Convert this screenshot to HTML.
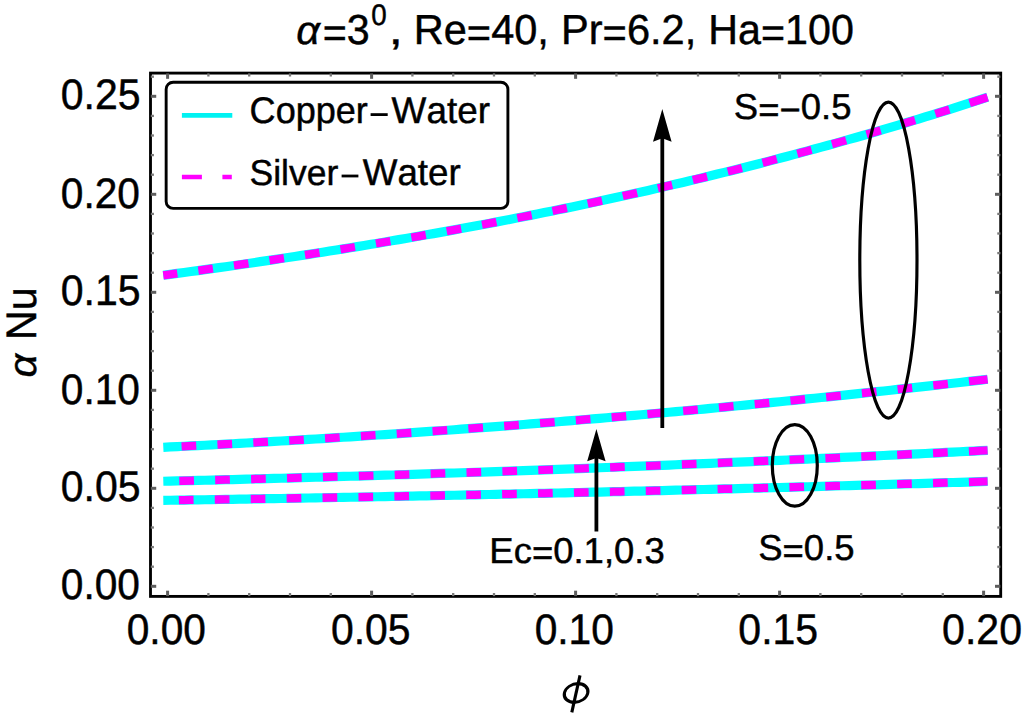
<!DOCTYPE html>
<html><head><meta charset="utf-8"><title>plot</title>
<style>html,body{margin:0;padding:0;background:#fff;overflow:hidden;}svg{display:block;}text{font-family:"Liberation Sans",sans-serif;fill:#000;font-kerning:none;text-rendering:geometricPrecision;stroke:#000;stroke-width:0.45px;}</style>
</head><body>
<svg width="1024" height="715" viewBox="0 0 1024 715">
<rect x="0" y="0" width="1024" height="715" fill="#ffffff"/>
<path d="M987.60,97.21 L980.67,99.47 L973.75,101.71 L966.82,103.94 L959.89,106.15 L952.97,108.35 L946.04,110.53 L939.11,112.69 L932.18,114.84 L925.26,116.98 L918.33,119.09 L911.40,121.20 L904.48,123.28 L897.55,125.35 L890.62,127.41 L883.70,129.45 L876.77,131.48 L869.84,133.49 L862.92,135.48 L855.99,137.46 L849.06,139.43 L842.14,141.38 L835.21,143.31 L828.28,145.24 L821.35,147.14 L814.43,149.04 L807.50,150.92 L800.57,152.78 L793.65,154.63 L786.72,156.47 L779.79,158.29 L772.87,160.10 L765.94,161.90 L759.01,163.68 L752.09,165.45 L745.16,167.20 L738.23,168.94 L731.31,170.67 L724.38,172.38 L717.45,174.09 L710.52,175.77 L703.60,177.45 L696.67,179.11 L689.74,180.76 L682.82,182.40 L675.89,184.02 L668.96,185.64 L662.04,187.24 L655.11,188.82 L648.18,190.40 L641.26,191.96 L634.33,193.51 L627.40,195.05 L620.47,196.58 L613.55,198.09 L606.62,199.60 L599.69,201.09 L592.77,202.57 L585.84,204.04 L578.91,205.49 L571.99,206.94 L565.06,208.37 L558.13,209.80 L551.21,211.21 L544.28,212.61 L537.35,214.00 L530.43,215.38 L523.50,216.75 L516.57,218.11 L509.64,219.45 L502.72,220.79 L495.79,222.12 L488.86,223.43 L481.94,224.74 L475.01,226.04 L468.08,227.32 L461.16,228.60 L454.23,229.87 L447.30,231.12 L440.38,232.37 L433.45,233.61 L426.52,234.83 L419.59,236.05 L412.67,237.26 L405.74,238.46 L398.81,239.65 L391.89,240.83 L384.96,242.01 L378.03,243.17 L371.11,244.32 L364.18,245.47 L357.25,246.61 L350.33,247.74 L343.40,248.86 L336.47,249.97 L329.55,251.07 L322.62,252.17 L315.69,253.26 L308.76,254.33 L301.84,255.41 L294.91,256.47 L287.98,257.52 L281.06,258.57 L274.13,259.61 L267.20,260.65 L260.28,261.67 L253.35,262.69 L246.42,263.70 L239.50,264.70 L232.57,265.70 L225.64,266.69 L218.72,267.67 L211.79,268.65 L204.86,269.62 L197.93,270.58 L191.01,271.53 L184.08,272.48 L177.15,273.42 L170.23,274.36 L163.30,275.29" fill="none" stroke="#00ffff" stroke-width="9.2"/>
<path d="M987.60,97.21 L980.67,99.47 L973.75,101.71 L966.82,103.94 L959.89,106.15 L952.97,108.35 L946.04,110.53 L939.11,112.69 L932.18,114.84 L925.26,116.98 L918.33,119.09 L911.40,121.20 L904.48,123.28 L897.55,125.35 L890.62,127.41 L883.70,129.45 L876.77,131.48 L869.84,133.49 L862.92,135.48 L855.99,137.46 L849.06,139.43 L842.14,141.38 L835.21,143.31 L828.28,145.24 L821.35,147.14 L814.43,149.04 L807.50,150.92 L800.57,152.78 L793.65,154.63 L786.72,156.47 L779.79,158.29 L772.87,160.10 L765.94,161.90 L759.01,163.68 L752.09,165.45 L745.16,167.20 L738.23,168.94 L731.31,170.67 L724.38,172.38 L717.45,174.09 L710.52,175.77 L703.60,177.45 L696.67,179.11 L689.74,180.76 L682.82,182.40 L675.89,184.02 L668.96,185.64 L662.04,187.24 L655.11,188.82 L648.18,190.40 L641.26,191.96 L634.33,193.51 L627.40,195.05 L620.47,196.58 L613.55,198.09 L606.62,199.60 L599.69,201.09 L592.77,202.57 L585.84,204.04 L578.91,205.49 L571.99,206.94 L565.06,208.37 L558.13,209.80 L551.21,211.21 L544.28,212.61 L537.35,214.00 L530.43,215.38 L523.50,216.75 L516.57,218.11 L509.64,219.45 L502.72,220.79 L495.79,222.12 L488.86,223.43 L481.94,224.74 L475.01,226.04 L468.08,227.32 L461.16,228.60 L454.23,229.87 L447.30,231.12 L440.38,232.37 L433.45,233.61 L426.52,234.83 L419.59,236.05 L412.67,237.26 L405.74,238.46 L398.81,239.65 L391.89,240.83 L384.96,242.01 L378.03,243.17 L371.11,244.32 L364.18,245.47 L357.25,246.61 L350.33,247.74 L343.40,248.86 L336.47,249.97 L329.55,251.07 L322.62,252.17 L315.69,253.26 L308.76,254.33 L301.84,255.41 L294.91,256.47 L287.98,257.52 L281.06,258.57 L274.13,259.61 L267.20,260.65 L260.28,261.67 L253.35,262.69 L246.42,263.70 L239.50,264.70 L232.57,265.70 L225.64,266.69 L218.72,267.67 L211.79,268.65 L204.86,269.62 L197.93,270.58 L191.01,271.53 L184.08,272.48 L177.15,273.42 L170.23,274.36 L163.30,275.29" fill="none" stroke="#ff00ff" stroke-width="8.3" stroke-dasharray="18.91 21.22 14.70 21.22 14.70 21.22 14.70 21.22 14.70 21.22 14.70 21.22 14.70 21.22 14.70 21.22 14.70 21.22 14.70 21.22 14.70 21.22 14.70 21.22 14.70 21.22 14.70 21.22 14.70 21.22 14.70 21.22 14.70 21.22 14.70 21.22 14.70 21.22 14.70 21.22 14.70 21.22 14.70 21.22 14.70 21.22 14.70 21.22 14.70 21.22 14.70 21.22"/>
<path d="M987.60,379.27 L980.67,380.08 L973.75,380.88 L966.82,381.68 L959.89,382.47 L952.97,383.26 L946.04,384.05 L939.11,384.83 L932.18,385.61 L925.26,386.39 L918.33,387.16 L911.40,387.92 L904.48,388.68 L897.55,389.44 L890.62,390.20 L883.70,390.95 L876.77,391.69 L869.84,392.44 L862.92,393.18 L855.99,393.91 L849.06,394.64 L842.14,395.37 L835.21,396.09 L828.28,396.81 L821.35,397.52 L814.43,398.24 L807.50,398.94 L800.57,399.64 L793.65,400.34 L786.72,401.04 L779.79,401.73 L772.87,402.42 L765.94,403.10 L759.01,403.78 L752.09,404.45 L745.16,405.12 L738.23,405.79 L731.31,406.45 L724.38,407.11 L717.45,407.77 L710.52,408.42 L703.60,409.07 L696.67,409.71 L689.74,410.35 L682.82,410.98 L675.89,411.62 L668.96,412.24 L662.04,412.87 L655.11,413.49 L648.18,414.10 L641.26,414.71 L634.33,415.32 L627.40,415.92 L620.47,416.52 L613.55,417.12 L606.62,417.71 L599.69,418.30 L592.77,418.88 L585.84,419.46 L578.91,420.04 L571.99,420.61 L565.06,421.18 L558.13,421.74 L551.21,422.30 L544.28,422.86 L537.35,423.41 L530.43,423.96 L523.50,424.50 L516.57,425.04 L509.64,425.57 L502.72,426.11 L495.79,426.63 L488.86,427.16 L481.94,427.68 L475.01,428.19 L468.08,428.71 L461.16,429.21 L454.23,429.72 L447.30,430.22 L440.38,430.72 L433.45,431.21 L426.52,431.70 L419.59,432.18 L412.67,432.66 L405.74,433.14 L398.81,433.61 L391.89,434.08 L384.96,434.54 L378.03,435.00 L371.11,435.46 L364.18,435.91 L357.25,436.36 L350.33,436.80 L343.40,437.24 L336.47,437.68 L329.55,438.11 L322.62,438.54 L315.69,438.97 L308.76,439.39 L301.84,439.80 L294.91,440.22 L287.98,440.62 L281.06,441.03 L274.13,441.43 L267.20,441.83 L260.28,442.22 L253.35,442.61 L246.42,442.99 L239.50,443.37 L232.57,443.75 L225.64,444.12 L218.72,444.49 L211.79,444.86 L204.86,445.22 L197.93,445.58 L191.01,445.93 L184.08,446.28 L177.15,446.62 L170.23,446.96 L163.30,447.30" fill="none" stroke="#00ffff" stroke-width="9.2"/>
<path d="M987.60,379.27 L980.67,380.08 L973.75,380.88 L966.82,381.68 L959.89,382.47 L952.97,383.26 L946.04,384.05 L939.11,384.83 L932.18,385.61 L925.26,386.39 L918.33,387.16 L911.40,387.92 L904.48,388.68 L897.55,389.44 L890.62,390.20 L883.70,390.95 L876.77,391.69 L869.84,392.44 L862.92,393.18 L855.99,393.91 L849.06,394.64 L842.14,395.37 L835.21,396.09 L828.28,396.81 L821.35,397.52 L814.43,398.24 L807.50,398.94 L800.57,399.64 L793.65,400.34 L786.72,401.04 L779.79,401.73 L772.87,402.42 L765.94,403.10 L759.01,403.78 L752.09,404.45 L745.16,405.12 L738.23,405.79 L731.31,406.45 L724.38,407.11 L717.45,407.77 L710.52,408.42 L703.60,409.07 L696.67,409.71 L689.74,410.35 L682.82,410.98 L675.89,411.62 L668.96,412.24 L662.04,412.87 L655.11,413.49 L648.18,414.10 L641.26,414.71 L634.33,415.32 L627.40,415.92 L620.47,416.52 L613.55,417.12 L606.62,417.71 L599.69,418.30 L592.77,418.88 L585.84,419.46 L578.91,420.04 L571.99,420.61 L565.06,421.18 L558.13,421.74 L551.21,422.30 L544.28,422.86 L537.35,423.41 L530.43,423.96 L523.50,424.50 L516.57,425.04 L509.64,425.57 L502.72,426.11 L495.79,426.63 L488.86,427.16 L481.94,427.68 L475.01,428.19 L468.08,428.71 L461.16,429.21 L454.23,429.72 L447.30,430.22 L440.38,430.72 L433.45,431.21 L426.52,431.70 L419.59,432.18 L412.67,432.66 L405.74,433.14 L398.81,433.61 L391.89,434.08 L384.96,434.54 L378.03,435.00 L371.11,435.46 L364.18,435.91 L357.25,436.36 L350.33,436.80 L343.40,437.24 L336.47,437.68 L329.55,438.11 L322.62,438.54 L315.69,438.97 L308.76,439.39 L301.84,439.80 L294.91,440.22 L287.98,440.62 L281.06,441.03 L274.13,441.43 L267.20,441.83 L260.28,442.22 L253.35,442.61 L246.42,442.99 L239.50,443.37 L232.57,443.75 L225.64,444.12 L218.72,444.49 L211.79,444.86 L204.86,445.22 L197.93,445.58 L191.01,445.93 L184.08,446.28 L177.15,446.62 L170.23,446.96 L163.30,447.30" fill="none" stroke="#ff00ff" stroke-width="8.3" stroke-dasharray="18.73 21.22 14.70 21.22 14.70 21.22 14.70 21.22 14.70 21.22 14.70 21.22 14.70 21.22 14.70 21.22 14.70 21.22 14.70 21.22 14.70 21.22 14.70 21.22 14.70 21.22 14.70 21.22 14.70 21.22 14.70 21.22 14.70 21.22 14.70 21.22 14.70 21.22 14.70 21.22 14.70 21.22 14.70 21.22 14.70 21.22 14.70 21.22 14.70 21.22 14.70 21.22"/>
<path d="M987.60,450.34 L980.67,450.70 L973.75,451.05 L966.82,451.40 L959.89,451.75 L952.97,452.10 L946.04,452.45 L939.11,452.80 L932.18,453.14 L925.26,453.48 L918.33,453.83 L911.40,454.17 L904.48,454.50 L897.55,454.84 L890.62,455.17 L883.70,455.51 L876.77,455.84 L869.84,456.17 L862.92,456.50 L855.99,456.82 L849.06,457.15 L842.14,457.47 L835.21,457.79 L828.28,458.11 L821.35,458.43 L814.43,458.75 L807.50,459.06 L800.57,459.38 L793.65,459.69 L786.72,460.00 L779.79,460.31 L772.87,460.62 L765.94,460.92 L759.01,461.22 L752.09,461.53 L745.16,461.83 L738.23,462.13 L731.31,462.42 L724.38,462.72 L717.45,463.01 L710.52,463.31 L703.60,463.60 L696.67,463.89 L689.74,464.17 L682.82,464.46 L675.89,464.74 L668.96,465.03 L662.04,465.31 L655.11,465.59 L648.18,465.86 L641.26,466.14 L634.33,466.41 L627.40,466.69 L620.47,466.96 L613.55,467.23 L606.62,467.49 L599.69,467.76 L592.77,468.03 L585.84,468.29 L578.91,468.55 L571.99,468.81 L565.06,469.07 L558.13,469.32 L551.21,469.58 L544.28,469.83 L537.35,470.08 L530.43,470.33 L523.50,470.58 L516.57,470.83 L509.64,471.07 L502.72,471.32 L495.79,471.56 L488.86,471.80 L481.94,472.04 L475.01,472.27 L468.08,472.51 L461.16,472.74 L454.23,472.98 L447.30,473.21 L440.38,473.43 L433.45,473.66 L426.52,473.89 L419.59,474.11 L412.67,474.33 L405.74,474.55 L398.81,474.77 L391.89,474.99 L384.96,475.21 L378.03,475.42 L371.11,475.63 L364.18,475.84 L357.25,476.05 L350.33,476.26 L343.40,476.47 L336.47,476.67 L329.55,476.87 L322.62,477.07 L315.69,477.27 L308.76,477.47 L301.84,477.67 L294.91,477.86 L287.98,478.05 L281.06,478.25 L274.13,478.44 L267.20,478.62 L260.28,478.81 L253.35,478.99 L246.42,479.18 L239.50,479.36 L232.57,479.54 L225.64,479.72 L218.72,479.89 L211.79,480.07 L204.86,480.24 L197.93,480.41 L191.01,480.58 L184.08,480.75 L177.15,480.92 L170.23,481.08 L163.30,481.25" fill="none" stroke="#00ffff" stroke-width="9.2"/>
<path d="M987.60,450.34 L980.67,450.70 L973.75,451.05 L966.82,451.40 L959.89,451.75 L952.97,452.10 L946.04,452.45 L939.11,452.80 L932.18,453.14 L925.26,453.48 L918.33,453.83 L911.40,454.17 L904.48,454.50 L897.55,454.84 L890.62,455.17 L883.70,455.51 L876.77,455.84 L869.84,456.17 L862.92,456.50 L855.99,456.82 L849.06,457.15 L842.14,457.47 L835.21,457.79 L828.28,458.11 L821.35,458.43 L814.43,458.75 L807.50,459.06 L800.57,459.38 L793.65,459.69 L786.72,460.00 L779.79,460.31 L772.87,460.62 L765.94,460.92 L759.01,461.22 L752.09,461.53 L745.16,461.83 L738.23,462.13 L731.31,462.42 L724.38,462.72 L717.45,463.01 L710.52,463.31 L703.60,463.60 L696.67,463.89 L689.74,464.17 L682.82,464.46 L675.89,464.74 L668.96,465.03 L662.04,465.31 L655.11,465.59 L648.18,465.86 L641.26,466.14 L634.33,466.41 L627.40,466.69 L620.47,466.96 L613.55,467.23 L606.62,467.49 L599.69,467.76 L592.77,468.03 L585.84,468.29 L578.91,468.55 L571.99,468.81 L565.06,469.07 L558.13,469.32 L551.21,469.58 L544.28,469.83 L537.35,470.08 L530.43,470.33 L523.50,470.58 L516.57,470.83 L509.64,471.07 L502.72,471.32 L495.79,471.56 L488.86,471.80 L481.94,472.04 L475.01,472.27 L468.08,472.51 L461.16,472.74 L454.23,472.98 L447.30,473.21 L440.38,473.43 L433.45,473.66 L426.52,473.89 L419.59,474.11 L412.67,474.33 L405.74,474.55 L398.81,474.77 L391.89,474.99 L384.96,475.21 L378.03,475.42 L371.11,475.63 L364.18,475.84 L357.25,476.05 L350.33,476.26 L343.40,476.47 L336.47,476.67 L329.55,476.87 L322.62,477.07 L315.69,477.27 L308.76,477.47 L301.84,477.67 L294.91,477.86 L287.98,478.05 L281.06,478.25 L274.13,478.44 L267.20,478.62 L260.28,478.81 L253.35,478.99 L246.42,479.18 L239.50,479.36 L232.57,479.54 L225.64,479.72 L218.72,479.89 L211.79,480.07 L204.86,480.24 L197.93,480.41 L191.01,480.58 L184.08,480.75 L177.15,480.92 L170.23,481.08 L163.30,481.25" fill="none" stroke="#ff00ff" stroke-width="8.3" stroke-dasharray="18.71 21.22 14.70 21.22 14.70 21.22 14.70 21.22 14.70 21.22 14.70 21.22 14.70 21.22 14.70 21.22 14.70 21.22 14.70 21.22 14.70 21.22 14.70 21.22 14.70 21.22 14.70 21.22 14.70 21.22 14.70 21.22 14.70 21.22 14.70 21.22 14.70 21.22 14.70 21.22 14.70 21.22 14.70 21.22 14.70 21.22 14.70 21.22 14.70 21.22"/>
<path d="M987.60,481.45 L980.67,481.66 L973.75,481.88 L966.82,482.09 L959.89,482.30 L952.97,482.51 L946.04,482.72 L939.11,482.93 L932.18,483.14 L925.26,483.35 L918.33,483.56 L911.40,483.76 L904.48,483.97 L897.55,484.17 L890.62,484.37 L883.70,484.58 L876.77,484.78 L869.84,484.98 L862.92,485.18 L855.99,485.37 L849.06,485.57 L842.14,485.77 L835.21,485.96 L828.28,486.16 L821.35,486.35 L814.43,486.54 L807.50,486.73 L800.57,486.92 L793.65,487.11 L786.72,487.30 L779.79,487.49 L772.87,487.68 L765.94,487.86 L759.01,488.05 L752.09,488.23 L745.16,488.41 L738.23,488.59 L731.31,488.78 L724.38,488.96 L717.45,489.13 L710.52,489.31 L703.60,489.49 L696.67,489.67 L689.74,489.84 L682.82,490.01 L675.89,490.19 L668.96,490.36 L662.04,490.53 L655.11,490.70 L648.18,490.87 L641.26,491.04 L634.33,491.21 L627.40,491.37 L620.47,491.54 L613.55,491.70 L606.62,491.87 L599.69,492.03 L592.77,492.19 L585.84,492.35 L578.91,492.51 L571.99,492.67 L565.06,492.83 L558.13,492.99 L551.21,493.14 L544.28,493.30 L537.35,493.45 L530.43,493.60 L523.50,493.76 L516.57,493.91 L509.64,494.06 L502.72,494.21 L495.79,494.36 L488.86,494.50 L481.94,494.65 L475.01,494.80 L468.08,494.94 L461.16,495.08 L454.23,495.23 L447.30,495.37 L440.38,495.51 L433.45,495.65 L426.52,495.79 L419.59,495.93 L412.67,496.06 L405.74,496.20 L398.81,496.33 L391.89,496.47 L384.96,496.60 L378.03,496.73 L371.11,496.86 L364.18,496.99 L357.25,497.12 L350.33,497.25 L343.40,497.38 L336.47,497.51 L329.55,497.63 L322.62,497.76 L315.69,497.88 L308.76,498.00 L301.84,498.12 L294.91,498.24 L287.98,498.36 L281.06,498.48 L274.13,498.60 L267.20,498.72 L260.28,498.83 L253.35,498.95 L246.42,499.06 L239.50,499.17 L232.57,499.29 L225.64,499.40 L218.72,499.51 L211.79,499.62 L204.86,499.73 L197.93,499.83 L191.01,499.94 L184.08,500.04 L177.15,500.15 L170.23,500.25 L163.30,500.35" fill="none" stroke="#00ffff" stroke-width="9.2"/>
<path d="M987.60,481.45 L980.67,481.66 L973.75,481.88 L966.82,482.09 L959.89,482.30 L952.97,482.51 L946.04,482.72 L939.11,482.93 L932.18,483.14 L925.26,483.35 L918.33,483.56 L911.40,483.76 L904.48,483.97 L897.55,484.17 L890.62,484.37 L883.70,484.58 L876.77,484.78 L869.84,484.98 L862.92,485.18 L855.99,485.37 L849.06,485.57 L842.14,485.77 L835.21,485.96 L828.28,486.16 L821.35,486.35 L814.43,486.54 L807.50,486.73 L800.57,486.92 L793.65,487.11 L786.72,487.30 L779.79,487.49 L772.87,487.68 L765.94,487.86 L759.01,488.05 L752.09,488.23 L745.16,488.41 L738.23,488.59 L731.31,488.78 L724.38,488.96 L717.45,489.13 L710.52,489.31 L703.60,489.49 L696.67,489.67 L689.74,489.84 L682.82,490.01 L675.89,490.19 L668.96,490.36 L662.04,490.53 L655.11,490.70 L648.18,490.87 L641.26,491.04 L634.33,491.21 L627.40,491.37 L620.47,491.54 L613.55,491.70 L606.62,491.87 L599.69,492.03 L592.77,492.19 L585.84,492.35 L578.91,492.51 L571.99,492.67 L565.06,492.83 L558.13,492.99 L551.21,493.14 L544.28,493.30 L537.35,493.45 L530.43,493.60 L523.50,493.76 L516.57,493.91 L509.64,494.06 L502.72,494.21 L495.79,494.36 L488.86,494.50 L481.94,494.65 L475.01,494.80 L468.08,494.94 L461.16,495.08 L454.23,495.23 L447.30,495.37 L440.38,495.51 L433.45,495.65 L426.52,495.79 L419.59,495.93 L412.67,496.06 L405.74,496.20 L398.81,496.33 L391.89,496.47 L384.96,496.60 L378.03,496.73 L371.11,496.86 L364.18,496.99 L357.25,497.12 L350.33,497.25 L343.40,497.38 L336.47,497.51 L329.55,497.63 L322.62,497.76 L315.69,497.88 L308.76,498.00 L301.84,498.12 L294.91,498.24 L287.98,498.36 L281.06,498.48 L274.13,498.60 L267.20,498.72 L260.28,498.83 L253.35,498.95 L246.42,499.06 L239.50,499.17 L232.57,499.29 L225.64,499.40 L218.72,499.51 L211.79,499.62 L204.86,499.73 L197.93,499.83 L191.01,499.94 L184.08,500.04 L177.15,500.15 L170.23,500.25 L163.30,500.35" fill="none" stroke="#ff00ff" stroke-width="8.3" stroke-dasharray="18.70 21.22 14.70 21.22 14.70 21.22 14.70 21.22 14.70 21.22 14.70 21.22 14.70 21.22 14.70 21.22 14.70 21.22 14.70 21.22 14.70 21.22 14.70 21.22 14.70 21.22 14.70 21.22 14.70 21.22 14.70 21.22 14.70 21.22 14.70 21.22 14.70 21.22 14.70 21.22 14.70 21.22 14.70 21.22 14.70 21.22 14.70 21.22 14.70 21.22"/>
<rect x="150.5" y="73.1" width="850.2" height="523.3" fill="none" stroke="#000" stroke-width="2.85"/>
<line x1="167.60" y1="596.10" x2="167.60" y2="590.68" stroke="#5e5e5e" stroke-width="3.0"/>
<line x1="167.60" y1="73.40" x2="167.60" y2="78.82" stroke="#5e5e5e" stroke-width="3.0"/>
<line x1="208.40" y1="596.10" x2="208.40" y2="592.98" stroke="#7a7a7a" stroke-width="2.3"/>
<line x1="208.40" y1="73.40" x2="208.40" y2="76.52" stroke="#7a7a7a" stroke-width="2.3"/>
<line x1="249.20" y1="596.10" x2="249.20" y2="592.98" stroke="#7a7a7a" stroke-width="2.3"/>
<line x1="249.20" y1="73.40" x2="249.20" y2="76.52" stroke="#7a7a7a" stroke-width="2.3"/>
<line x1="290.00" y1="596.10" x2="290.00" y2="592.98" stroke="#7a7a7a" stroke-width="2.3"/>
<line x1="290.00" y1="73.40" x2="290.00" y2="76.52" stroke="#7a7a7a" stroke-width="2.3"/>
<line x1="330.80" y1="596.10" x2="330.80" y2="592.98" stroke="#7a7a7a" stroke-width="2.3"/>
<line x1="330.80" y1="73.40" x2="330.80" y2="76.52" stroke="#7a7a7a" stroke-width="2.3"/>
<line x1="371.60" y1="596.10" x2="371.60" y2="590.68" stroke="#5e5e5e" stroke-width="3.0"/>
<line x1="371.60" y1="73.40" x2="371.60" y2="78.82" stroke="#5e5e5e" stroke-width="3.0"/>
<line x1="412.40" y1="596.10" x2="412.40" y2="592.98" stroke="#7a7a7a" stroke-width="2.3"/>
<line x1="412.40" y1="73.40" x2="412.40" y2="76.52" stroke="#7a7a7a" stroke-width="2.3"/>
<line x1="453.20" y1="596.10" x2="453.20" y2="592.98" stroke="#7a7a7a" stroke-width="2.3"/>
<line x1="453.20" y1="73.40" x2="453.20" y2="76.52" stroke="#7a7a7a" stroke-width="2.3"/>
<line x1="494.00" y1="596.10" x2="494.00" y2="592.98" stroke="#7a7a7a" stroke-width="2.3"/>
<line x1="494.00" y1="73.40" x2="494.00" y2="76.52" stroke="#7a7a7a" stroke-width="2.3"/>
<line x1="534.80" y1="596.10" x2="534.80" y2="592.98" stroke="#7a7a7a" stroke-width="2.3"/>
<line x1="534.80" y1="73.40" x2="534.80" y2="76.52" stroke="#7a7a7a" stroke-width="2.3"/>
<line x1="575.60" y1="596.10" x2="575.60" y2="590.68" stroke="#5e5e5e" stroke-width="3.0"/>
<line x1="575.60" y1="73.40" x2="575.60" y2="78.82" stroke="#5e5e5e" stroke-width="3.0"/>
<line x1="616.40" y1="596.10" x2="616.40" y2="592.98" stroke="#7a7a7a" stroke-width="2.3"/>
<line x1="616.40" y1="73.40" x2="616.40" y2="76.52" stroke="#7a7a7a" stroke-width="2.3"/>
<line x1="657.20" y1="596.10" x2="657.20" y2="592.98" stroke="#7a7a7a" stroke-width="2.3"/>
<line x1="657.20" y1="73.40" x2="657.20" y2="76.52" stroke="#7a7a7a" stroke-width="2.3"/>
<line x1="698.00" y1="596.10" x2="698.00" y2="592.98" stroke="#7a7a7a" stroke-width="2.3"/>
<line x1="698.00" y1="73.40" x2="698.00" y2="76.52" stroke="#7a7a7a" stroke-width="2.3"/>
<line x1="738.80" y1="596.10" x2="738.80" y2="592.98" stroke="#7a7a7a" stroke-width="2.3"/>
<line x1="738.80" y1="73.40" x2="738.80" y2="76.52" stroke="#7a7a7a" stroke-width="2.3"/>
<line x1="779.60" y1="596.10" x2="779.60" y2="590.68" stroke="#5e5e5e" stroke-width="3.0"/>
<line x1="779.60" y1="73.40" x2="779.60" y2="78.82" stroke="#5e5e5e" stroke-width="3.0"/>
<line x1="820.40" y1="596.10" x2="820.40" y2="592.98" stroke="#7a7a7a" stroke-width="2.3"/>
<line x1="820.40" y1="73.40" x2="820.40" y2="76.52" stroke="#7a7a7a" stroke-width="2.3"/>
<line x1="861.20" y1="596.10" x2="861.20" y2="592.98" stroke="#7a7a7a" stroke-width="2.3"/>
<line x1="861.20" y1="73.40" x2="861.20" y2="76.52" stroke="#7a7a7a" stroke-width="2.3"/>
<line x1="902.00" y1="596.10" x2="902.00" y2="592.98" stroke="#7a7a7a" stroke-width="2.3"/>
<line x1="902.00" y1="73.40" x2="902.00" y2="76.52" stroke="#7a7a7a" stroke-width="2.3"/>
<line x1="942.80" y1="596.10" x2="942.80" y2="592.98" stroke="#7a7a7a" stroke-width="2.3"/>
<line x1="942.80" y1="73.40" x2="942.80" y2="76.52" stroke="#7a7a7a" stroke-width="2.3"/>
<line x1="983.60" y1="596.10" x2="983.60" y2="590.68" stroke="#5e5e5e" stroke-width="3.0"/>
<line x1="983.60" y1="73.40" x2="983.60" y2="78.82" stroke="#5e5e5e" stroke-width="3.0"/>
<line x1="150.80" y1="586.30" x2="156.23" y2="586.30" stroke="#5e5e5e" stroke-width="3.0"/>
<line x1="1000.40" y1="586.30" x2="994.98" y2="586.30" stroke="#5e5e5e" stroke-width="3.0"/>
<line x1="150.80" y1="566.70" x2="153.93" y2="566.70" stroke="#7a7a7a" stroke-width="2.3"/>
<line x1="1000.40" y1="566.70" x2="997.28" y2="566.70" stroke="#7a7a7a" stroke-width="2.3"/>
<line x1="150.80" y1="547.10" x2="153.93" y2="547.10" stroke="#7a7a7a" stroke-width="2.3"/>
<line x1="1000.40" y1="547.10" x2="997.28" y2="547.10" stroke="#7a7a7a" stroke-width="2.3"/>
<line x1="150.80" y1="527.50" x2="153.93" y2="527.50" stroke="#7a7a7a" stroke-width="2.3"/>
<line x1="1000.40" y1="527.50" x2="997.28" y2="527.50" stroke="#7a7a7a" stroke-width="2.3"/>
<line x1="150.80" y1="507.90" x2="153.93" y2="507.90" stroke="#7a7a7a" stroke-width="2.3"/>
<line x1="1000.40" y1="507.90" x2="997.28" y2="507.90" stroke="#7a7a7a" stroke-width="2.3"/>
<line x1="150.80" y1="488.30" x2="156.23" y2="488.30" stroke="#5e5e5e" stroke-width="3.0"/>
<line x1="1000.40" y1="488.30" x2="994.98" y2="488.30" stroke="#5e5e5e" stroke-width="3.0"/>
<line x1="150.80" y1="468.70" x2="153.93" y2="468.70" stroke="#7a7a7a" stroke-width="2.3"/>
<line x1="1000.40" y1="468.70" x2="997.28" y2="468.70" stroke="#7a7a7a" stroke-width="2.3"/>
<line x1="150.80" y1="449.10" x2="153.93" y2="449.10" stroke="#7a7a7a" stroke-width="2.3"/>
<line x1="1000.40" y1="449.10" x2="997.28" y2="449.10" stroke="#7a7a7a" stroke-width="2.3"/>
<line x1="150.80" y1="429.50" x2="153.93" y2="429.50" stroke="#7a7a7a" stroke-width="2.3"/>
<line x1="1000.40" y1="429.50" x2="997.28" y2="429.50" stroke="#7a7a7a" stroke-width="2.3"/>
<line x1="150.80" y1="409.90" x2="153.93" y2="409.90" stroke="#7a7a7a" stroke-width="2.3"/>
<line x1="1000.40" y1="409.90" x2="997.28" y2="409.90" stroke="#7a7a7a" stroke-width="2.3"/>
<line x1="150.80" y1="390.30" x2="156.23" y2="390.30" stroke="#5e5e5e" stroke-width="3.0"/>
<line x1="1000.40" y1="390.30" x2="994.98" y2="390.30" stroke="#5e5e5e" stroke-width="3.0"/>
<line x1="150.80" y1="370.70" x2="153.93" y2="370.70" stroke="#7a7a7a" stroke-width="2.3"/>
<line x1="1000.40" y1="370.70" x2="997.28" y2="370.70" stroke="#7a7a7a" stroke-width="2.3"/>
<line x1="150.80" y1="351.10" x2="153.93" y2="351.10" stroke="#7a7a7a" stroke-width="2.3"/>
<line x1="1000.40" y1="351.10" x2="997.28" y2="351.10" stroke="#7a7a7a" stroke-width="2.3"/>
<line x1="150.80" y1="331.50" x2="153.93" y2="331.50" stroke="#7a7a7a" stroke-width="2.3"/>
<line x1="1000.40" y1="331.50" x2="997.28" y2="331.50" stroke="#7a7a7a" stroke-width="2.3"/>
<line x1="150.80" y1="311.90" x2="153.93" y2="311.90" stroke="#7a7a7a" stroke-width="2.3"/>
<line x1="1000.40" y1="311.90" x2="997.28" y2="311.90" stroke="#7a7a7a" stroke-width="2.3"/>
<line x1="150.80" y1="292.30" x2="156.23" y2="292.30" stroke="#5e5e5e" stroke-width="3.0"/>
<line x1="1000.40" y1="292.30" x2="994.98" y2="292.30" stroke="#5e5e5e" stroke-width="3.0"/>
<line x1="150.80" y1="272.70" x2="153.93" y2="272.70" stroke="#7a7a7a" stroke-width="2.3"/>
<line x1="1000.40" y1="272.70" x2="997.28" y2="272.70" stroke="#7a7a7a" stroke-width="2.3"/>
<line x1="150.80" y1="253.10" x2="153.93" y2="253.10" stroke="#7a7a7a" stroke-width="2.3"/>
<line x1="1000.40" y1="253.10" x2="997.28" y2="253.10" stroke="#7a7a7a" stroke-width="2.3"/>
<line x1="150.80" y1="233.50" x2="153.93" y2="233.50" stroke="#7a7a7a" stroke-width="2.3"/>
<line x1="1000.40" y1="233.50" x2="997.28" y2="233.50" stroke="#7a7a7a" stroke-width="2.3"/>
<line x1="150.80" y1="213.90" x2="153.93" y2="213.90" stroke="#7a7a7a" stroke-width="2.3"/>
<line x1="1000.40" y1="213.90" x2="997.28" y2="213.90" stroke="#7a7a7a" stroke-width="2.3"/>
<line x1="150.80" y1="194.30" x2="156.23" y2="194.30" stroke="#5e5e5e" stroke-width="3.0"/>
<line x1="1000.40" y1="194.30" x2="994.98" y2="194.30" stroke="#5e5e5e" stroke-width="3.0"/>
<line x1="150.80" y1="174.70" x2="153.93" y2="174.70" stroke="#7a7a7a" stroke-width="2.3"/>
<line x1="1000.40" y1="174.70" x2="997.28" y2="174.70" stroke="#7a7a7a" stroke-width="2.3"/>
<line x1="150.80" y1="155.10" x2="153.93" y2="155.10" stroke="#7a7a7a" stroke-width="2.3"/>
<line x1="1000.40" y1="155.10" x2="997.28" y2="155.10" stroke="#7a7a7a" stroke-width="2.3"/>
<line x1="150.80" y1="135.50" x2="153.93" y2="135.50" stroke="#7a7a7a" stroke-width="2.3"/>
<line x1="1000.40" y1="135.50" x2="997.28" y2="135.50" stroke="#7a7a7a" stroke-width="2.3"/>
<line x1="150.80" y1="115.90" x2="153.93" y2="115.90" stroke="#7a7a7a" stroke-width="2.3"/>
<line x1="1000.40" y1="115.90" x2="997.28" y2="115.90" stroke="#7a7a7a" stroke-width="2.3"/>
<line x1="150.80" y1="96.30" x2="156.23" y2="96.30" stroke="#5e5e5e" stroke-width="3.0"/>
<line x1="1000.40" y1="96.30" x2="994.98" y2="96.30" stroke="#5e5e5e" stroke-width="3.0"/>
<line x1="150.80" y1="76.70" x2="153.93" y2="76.70" stroke="#7a7a7a" stroke-width="2.3"/>
<line x1="1000.40" y1="76.70" x2="997.28" y2="76.70" stroke="#7a7a7a" stroke-width="2.3"/>
<rect x="166.15" y="82.2" width="341.75" height="126.2" rx="7" ry="7" fill="#ffffff" stroke="#000" stroke-width="2.9"/>
<line x1="181.9" y1="115.35" x2="232.3" y2="115.35" stroke="#00f2f2" stroke-width="4.8"/>
<line x1="181.9" y1="177" x2="201.9" y2="177" stroke="#ff00ff" stroke-width="4.5"/>
<line x1="222.4" y1="177" x2="231.8" y2="177" stroke="#ff00ff" stroke-width="4.5"/>
<rect x="370.6" y="113.2" width="17.1" height="2.8" fill="#000"/>
<rect x="341.6" y="174.6" width="16.8" height="2.8" fill="#000"/>
<ellipse cx="888.4" cy="260.1" rx="28.6" ry="158" fill="none" stroke="#000" stroke-width="3.15"/>
<ellipse cx="794.8" cy="465.4" rx="22.5" ry="40.8" fill="none" stroke="#000" stroke-width="3.2"/>
<line x1="596.4" y1="531.5" x2="596.4" y2="456.9" stroke="#000" stroke-width="3.8"/>
<path d="M596.4,428.9 L605.6,461.29999999999995 L596.4,457.9 L587.1999999999999,461.29999999999995 Z" fill="#000"/>
<line x1="662.3" y1="428" x2="662.3" y2="137.29999999999998" stroke="#000" stroke-width="3.8"/>
<path d="M662.3,109.1 L671.5999999999999,141.7 L662.3,138.29999999999998 L653.0,141.7 Z" fill="#000"/>
<text id="tA1" transform="translate(296.34,44.10) scale(1.0039,0.9600)" font-size="41.5"><tspan font-style="italic">&#945;</tspan></text>
<text id="tA2" transform="translate(322.67,44.10) scale(0.9927,1.0120)" font-size="41.5"><tspan dy="2.9">=</tspan><tspan dy="-2.9">3</tspan></text>
<text id="tA3" transform="translate(371.21,25.40) scale(0.9746,1.0400)" font-size="28.5">0</text>
<text id="tA4" transform="translate(388.63,44.10) scale(1.2164,1.0120)" font-size="41.5">,</text>
<text id="tB1" transform="translate(413.74,44.10) scale(1.0011,1.0120)" font-size="41.5">Re<tspan dy="2.9">=</tspan><tspan dy="-2.9">40,</tspan></text>
<text id="tB2" transform="translate(561.04,44.10) scale(1.0019,1.0120)" font-size="41.5">Pr<tspan dy="2.9">=</tspan><tspan dy="-2.9">6.2,</tspan></text>
<text id="tB3" transform="translate(708.27,44.10) scale(0.9932,1.0120)" font-size="41.5">Ha<tspan dy="2.9">=</tspan><tspan dy="-2.9">100</tspan></text>
<text id="y0.00" transform="translate(60.83,598.80) scale(0.9796,1.0300)" font-size="41.5">0.00</text>
<text id="y0.05" transform="translate(60.82,501.00) scale(0.9869,1.0300)" font-size="41.5">0.05</text>
<text id="y0.10" transform="translate(60.83,403.90) scale(0.9796,1.0300)" font-size="41.5">0.10</text>
<text id="y0.15" transform="translate(60.82,305.30) scale(0.9869,1.0300)" font-size="41.5">0.15</text>
<text id="y0.20" transform="translate(60.83,207.80) scale(0.9796,1.0300)" font-size="41.5">0.20</text>
<text id="y0.25" transform="translate(60.82,108.80) scale(0.9869,1.0300)" font-size="41.5">0.25</text>
<text id="x0.00" transform="translate(126.73,643.55) scale(0.9796,1.0300)" font-size="41.5">0.00</text>
<text id="x0.05" transform="translate(330.92,643.55) scale(0.9843,1.0300)" font-size="41.5">0.05</text>
<text id="x0.10" transform="translate(534.63,643.55) scale(0.9808,1.0300)" font-size="41.5">0.10</text>
<text id="x0.15" transform="translate(738.32,643.55) scale(0.9882,1.0300)" font-size="41.5">0.15</text>
<text id="x0.20" transform="translate(942.12,643.55) scale(0.9897,1.0300)" font-size="41.5">0.20</text>
<text id="leg1a" transform="translate(249.61,123.00) scale(1.0013,1.0300)" font-size="36">Copper</text>
<text id="leg1b" transform="translate(391.62,123.00) scale(1.0244,1.0300)" font-size="36">Water</text>
<text id="leg2a" transform="translate(249.57,184.80) scale(0.9855,1.0000)" font-size="36">Silver</text>
<text id="leg2b" transform="translate(362.72,184.80) scale(1.0202,1.0300)" font-size="36">Water</text>
<text id="s1" transform="translate(733.83,118.80) scale(1.0131,1.0000)" font-size="36">S<tspan dy="2.7">=&#8722;</tspan><tspan dy="-2.7">0.5</tspan></text>
<text id="s2" transform="translate(758.23,560.30) scale(1.0129,1.0000)" font-size="36">S<tspan dy="2.7">=</tspan><tspan dy="-2.7">0.5</tspan></text>
<text id="ec" transform="translate(489.37,562.70) scale(1.0127,1.0000)" font-size="36">Ec<tspan dy="2.7">=</tspan><tspan dy="-2.7">0.1,0.3</tspan></text>
<text id="ylabA" transform="translate(36.1,377.6) rotate(-90) scale(1,0.94)" font-size="41.5" font-style="italic" stroke="#000" stroke-width="0.5">&#945;</text>
<text id="ylabN" transform="translate(36.1,339.9) rotate(-90) scale(0.99,1.03)" font-size="41.5" stroke="#000" stroke-width="0.9">Nu</text>
<g id="phi" fill="none" stroke="#000"><ellipse cx="0" cy="0" rx="11.7" ry="9.4" transform="translate(576.1,693.0) skewX(-11)" stroke-width="3.1"/><line x1="580.0" y1="675.4" x2="571.8" y2="712.4" stroke-width="3.1"/></g>
</svg></body></html>
